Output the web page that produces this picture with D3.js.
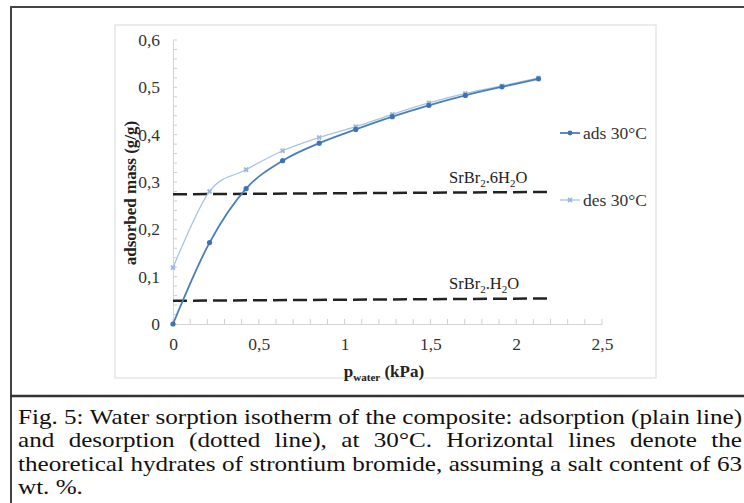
<!DOCTYPE html>
<meta charset="utf-8">
<style>
body { margin: 0; background: #fff; }
svg text { font-family: "Times New Roman", Tinos, "Liberation Serif", "DejaVu Serif", "Noto Serif", serif !important; }
</style>
<body>
<script src="https://d3js.org/d3.v7.min.js"></script>
<script>

// data
var pressure = [0, 0.213, 0.426, 0.639, 0.852, 1.065, 1.278, 1.491, 1.704, 1.917, 2.13];
var adsValues = [0, 0.172, 0.286, 0.345, 0.382, 0.411, 0.438, 0.462, 0.483, 0.501, 0.518];
var desValues = [0.119, 0.28, 0.326, 0.366, 0.394, 0.417, 0.443, 0.467, 0.487, 0.503, 0.52];
var hydrateNames = ["6", ""];
var hydrateLines = [[0.274, 0.279], [0.049, 0.054]];
var hydrateSpan = [0, 2.19];
var xTicks = [0, 0.5, 1, 1.5, 2, 2.5];
var yTicks = [0, 0.1, 0.2, 0.3, 0.4, 0.5, 0.6];
var captionLines = [
  "Fig. 5: Water sorption isotherm of the composite: adsorption (plain line)",
  "and desorption (dotted line), at 30°C. Horizontal lines denote the",
  "theoretical hydrates of strontium bromide, assuming a salt content of 63",
  "wt. %."
];

var W = 744, H = 503;
var svg = d3.select("body").append("svg")
    .attr("width", W)
    .attr("height", H);

// outer frame + caption separator
svg.append("line").attr("x1", 10).attr("x2", W).attr("y1", 7).attr("y2", 7)
    .attr("stroke", "#444").attr("stroke-width", 2);
svg.append("line").attr("x1", 11).attr("x2", 11).attr("y1", 6).attr("y2", H)
    .attr("stroke", "#444").attr("stroke-width", 2);
svg.append("line").attr("x1", 10).attr("x2", W).attr("y1", 396).attr("y2", 396)
    .attr("stroke", "#333").attr("stroke-width", 2.5);

// chart area box
svg.append("rect").attr("x", 115).attr("y", 25).attr("width", 541).attr("height", 353)
    .attr("fill", "#fff").attr("stroke", "#e6e6e6").attr("stroke-width", 1.5);

// scales
var x = d3.scaleLinear().domain([0, 2.5]).range([173, 602]);
var y = d3.scaleLinear().domain([0, 0.6]).range([324, 40]);

// minor ticks
var g = svg.append("g");
g.selectAll(".xm").data(d3.range(0, 2.501, 0.1)).enter().append("line")
    .attr("x1", function(d) { return x(d); }).attr("x2", function(d) { return x(d); })
    .attr("y1", y(0)).attr("y2", y(0) - 5)
    .attr("stroke", "#cfcfcf");
g.selectAll(".ym").data(d3.range(0, 0.601, 0.02)).enter().append("line")
    .attr("x1", x(0)).attr("x2", x(0) + 4)
    .attr("y1", function(d) { return y(d); }).attr("y2", function(d) { return y(d); })
    .attr("stroke", "#cfcfcf");

// axes
var xAxis = svg.append("g")
    .attr("transform", "translate(0," + y(0) + ")")
    .call(d3.axisBottom(x).tickValues(xTicks).tickSize(0).tickPadding(14)
      .tickFormat(function(d) { return String(d).replace(".", ","); }));
var yAxis = svg.append("g")
    .attr("transform", "translate(" + x(0) + ",0)")
    .call(d3.axisLeft(y).tickValues(yTicks).tickSize(0).tickPadding(13)
      .tickFormat(function(d) { return String(d).replace(".", ","); }));
svg.selectAll(".domain").attr("stroke", "#d4d4d4");
svg.selectAll("g").attr("font-family", null);
svg.selectAll(".tick text")
    .attr("font-size", 17.5)
    .attr("fill", "#333");

// axis titles
svg.append("text")
    .attr("transform", "translate(136," + 193 + ") rotate(-90)")
    .attr("text-anchor", "middle")
    .attr("font-weight", "bold")
    .attr("font-size", 17)
    .attr("fill", "#222")
    .text("adsorbed mass (g/g)");

var xt = svg.append("text")
    .attr("x", 384).attr("y", 377)
    .attr("text-anchor", "middle")
    .attr("font-weight", "bold")
    .attr("font-size", 17)
    .attr("fill", "#222");
xt.append("tspan").text("p");
xt.append("tspan").attr("font-size", 11).attr("dy", 4).text("water");
xt.append("tspan").attr("dy", -4).text(" (kPa)");

// hydrate dashed lines
hydrateLines.forEach(function(v, i) {
  svg.append("line")
      .attr("x1", x(hydrateSpan[0])).attr("x2", x(hydrateSpan[1]))
      .attr("y1", y(v[0])).attr("y2", y(v[1]))
      .attr("stroke", "#222").attr("stroke-width", 2.5)
      .attr("stroke-dasharray", "14,6");
  var t = svg.append("text")
      .attr("x", 449).attr("y", y(v[1]) - 9)
      .attr("font-size", 16.5).attr("fill", "#222");
  t.append("tspan").text("SrBr");
  t.append("tspan").attr("font-size", 11).attr("dy", 4).text("2");
  t.append("tspan").attr("dy", -4).text("." + hydrateNames[i] + "H");
  t.append("tspan").attr("font-size", 11).attr("dy", 4).text("2");
  t.append("tspan").attr("dy", -4).text("O");
});

// series
var adsData = pressure.map(function(p, i) { return [p, adsValues[i]]; });
var desData = pressure.map(function(p, i) { return [p, desValues[i]]; });
var line = d3.line()
    .x(function(d) { return x(d[0]); })
    .y(function(d) { return y(d[1]); })
    .curve(d3.curveCatmullRom.alpha(0));

svg.append("path").datum(desData)
    .attr("fill", "none").attr("stroke", "#a9c3e3").attr("stroke-width", 1.3)
    .attr("d", line);
svg.append("path").datum(adsData)
    .attr("fill", "none").attr("stroke", "#4a7ebb").attr("stroke-width", 1.8)
    .attr("d", line);

var star = d3.symbol().type(d3.symbolCross).size(18);
svg.selectAll(".desm").data(desData).enter().append("path")
    .attr("transform", function(d) { return "translate(" + x(d[0]) + "," + y(d[1]) + ") rotate(45)"; })
    .attr("d", star).attr("fill", "#9ab8df");
svg.selectAll(".adsm").data(adsData).enter().append("circle")
    .attr("cx", function(d) { return x(d[0]); })
    .attr("cy", function(d) { return y(d[1]); })
    .attr("r", 2.6).attr("fill", "#3f72b5");

// legend
var legend = [["ads 30°C", "#4a7ebb", 1.8, 133], ["des 30°C", "#a9c3e3", 1.3, 200]];
legend.forEach(function(l, i) {
  svg.append("line").attr("x1", 560).attr("x2", 580).attr("y1", l[3]).attr("y2", l[3])
      .attr("stroke", l[1]).attr("stroke-width", l[2]);
  if (i === 0) {
    svg.append("circle").attr("cx", 570).attr("cy", l[3]).attr("r", 2.4).attr("fill", "#3f72b5");
  } else {
    svg.append("path").attr("transform", "translate(570," + l[3] + ") rotate(45)")
        .attr("d", star).attr("fill", "#9ab8df");
  }
  svg.append("text").attr("x", 583).attr("y", l[3] + 6)
      .attr("font-size", 17.5).attr("fill", "#333").text(l[0]);
});

// caption: text is a bit stretched horizontally in the source, then justified
var capSize = 21, capLeft = 18, capRight = 742, capTop = 424, capStep = 23.5;
var cap = svg.append("g");
var probe = cap.append("text").attr("font-size", capSize).text(captionLines[0]);
var sx = (capRight - capLeft) / probe.node().getComputedTextLength();
probe.remove();
cap.attr("transform", "translate(" + capLeft + ",0) scale(" + sx + ",1)");
var span = (capRight - capLeft) / sx;
captionLines.forEach(function(txt, i) {
  var words = txt.split(" ");
  var yy = capTop + i * capStep;
  var nodes = words.map(function(w) {
    return cap.append("text").attr("y", yy).attr("font-size", capSize)
        .attr("fill", "#111").text(w);
  });
  var widths = nodes.map(function(n) { return n.node().getComputedTextLength(); });
  var total = d3.sum(widths);
  var last = i === captionLines.length - 1;
  var gap = last ? capSize * 0.25 : (span - total) / (words.length - 1);
  var xx = 0;
  nodes.forEach(function(n, k) {
    n.attr("x", xx);
    xx += widths[k] + gap;
  });
});

</script>
</body>
